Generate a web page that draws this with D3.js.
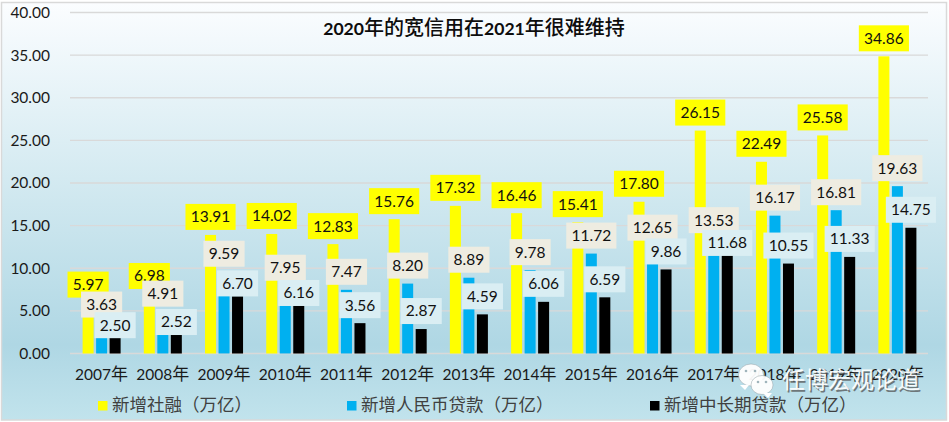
<!DOCTYPE html>
<html><head><meta charset="utf-8">
<script src="https://cdn.jsdelivr.net/npm/d3@7"></script>
<style>html,body{margin:0;padding:0;background:#fff;overflow:hidden}svg{display:block}</style>
</head><body><svg id="c" width="949" height="422"></svg>
<script>
const years = ["2007年","2008年","2009年","2010年","2011年","2012年","2013年","2014年","2015年","2016年","2017年","2018年","2019年","2020年"];
const socialFinancing = [5.97,6.98,13.91,14.02,12.83,15.76,17.32,16.46,15.41,17.80,26.15,22.49,25.58,34.86];
const rmbLoans = [3.63,4.91,9.59,7.95,7.47,8.20,8.89,9.78,11.72,12.65,13.53,16.17,16.81,19.63];
const longTermLoans = [2.50,2.52,6.70,6.16,3.56,2.87,4.59,6.06,6.59,9.86,11.68,10.55,11.33,14.75];
const seriesNames = ["新增社融（万亿）","新增人民币贷款（万亿）","新增中长期贷款（万亿）"];
const yTicks = [0,5,10,15,20,25,30,35,40];
const titleText = "2020年的宽信用在2021年很难维持";
const watermarkText = "任博宏观论道";
// the source chart's hand-moved labels for the third series (px downward)
const thirdSeriesLabelDrop = [11,8,5,10,0,0,0,0,0,0,7,0,0,0];

const seriesValues = [socialFinancing, rmbLoans, longTermLoans];
const barColors = ["#FFFF00","#00B0F0","#000000"];
const boxColors = ["#FFFF00","#EEECE1","#DAEEF3"];
const LATIN = "Lato, sans-serif", CJK = "'Noto Sans CJK SC', sans-serif";

const svg = d3.select("#c");
const grad = svg.append("defs").append("linearGradient").attr("id","bg").attr("x1",0).attr("y1",0).attr("x2",0).attr("y2",1);
[[0,"#FBFDFF"],[0.42,"#D4EAF1"],[0.82,"#AFD7E4"],[1,"#C1E3EC"]].forEach(s=>grad.append("stop").attr("offset",s[0]).attr("stop-color",s[1]));
svg.append("rect").attr("x",1.5).attr("y",2.5).attr("width",945).attr("height",417.5).attr("fill","url(#bg)").attr("stroke","#D9D9D9").attr("stroke-width",1.5);

const x = d3.scaleBand().domain(years).range([71,928]);
const xs = d3.scaleBand().domain([0,1,2]).range([0,x.bandwidth()]).paddingInner(0.185).paddingOuter(0.859);
const y = d3.scaleLinear().domain([0,40]).range([353.5,12.5]);

// mixed-script text: Latin runs and CJK runs use different fonts and sizes
function runs(sel, text, latinSize, cjkSize, latinW, cjkW){
  sel.each(function(){
    const t = d3.select(this);
    (text.match(/[\x00-\x7f]+|[^\x00-\x7f]+/g)||[]).forEach(r=>{
      const latin = /^[\x00-\x7f]/.test(r);
      t.append("tspan").text(r)
        .attr("font-family",latin?LATIN:CJK)
        .attr("font-size",latin?latinSize:cjkSize)
        .attr("font-weight",latin?latinW:cjkW);
    });
  });
}

// grid
svg.append("g").selectAll("line").data(yTicks).join("line")
  .attr("x1",70).attr("x2",928).attr("y1",d=>y(d)).attr("y2",d=>y(d))
  .attr("stroke","#D9D9D9").attr("stroke-width",1.3);

// y axis
const yAxis = d3.axisLeft(y).tickValues(yTicks).tickFormat(d3.format(".2f")).tickSize(0).tickPadding(0);
const yg = svg.append("g").attr("transform","translate(50,0)").call(yAxis);
yg.select(".domain").remove();
yg.selectAll("text").attr("font-family",LATIN).attr("font-size",15.5).attr("fill","#1a1a1a");

// x axis
const xAxis = d3.axisBottom(x).tickSize(0).tickPadding(0).tickFormat(()=>"");
const xg = svg.append("g").attr("transform","translate(0,353.5)").call(xAxis);
xg.select(".domain").remove();
xg.selectAll(".tick text").each(function(d){
  const t = d3.select(this).attr("y",26).attr("dy",0).attr("fill","#1a1a1a").attr("text-anchor","middle");
  runs(t,d,15.5,17,400,400);
});

// bars
seriesValues.forEach((vals,s)=>{
  svg.append("g").selectAll("rect").data(vals).join("rect")
    .attr("x",(d,i)=>x(years[i])+xs(s)).attr("width",xs.bandwidth())
    .attr("y",d=>y(d)).attr("height",d=>y(0)-y(d)).attr("fill",barColors[s]);
});

// labels, series by series so later boxes cover earlier ones
seriesValues.forEach((vals,s)=>{
  const g = svg.append("g").selectAll("g").data(vals).join("g")
    .attr("transform",(d,i)=>{
      const drop = s===2 ? thirdSeriesLabelDrop[i] : 0;
      return `translate(${x(years[i])+xs(s)+xs.bandwidth()/2},${y(d)-5-13+drop})`;
    });
  const rects = g.append("rect").attr("y",-13).attr("height",26).attr("fill",boxColors[s]);
  const texts = g.append("text").attr("text-anchor","middle").attr("dy","0.35em")
    .attr("font-family",LATIN).attr("font-size",15.5).attr("fill","#111").text(d3.format(".2f"));
  rects.each(function(d,i){
    const w = texts.nodes()[i].getComputedTextLength()+10.5;
    d3.select(this).attr("x",-w/2).attr("width",w);
  });
});

// title
svg.append("text").attr("x",474).attr("y",35).attr("text-anchor","middle").attr("fill","#0d0d0d")
  .call(runs,titleText,17.6,20,700,500);

// legend
const legendX = [98,347,650];
seriesNames.forEach((n,i)=>{
  svg.append("rect").attr("x",legendX[i]).attr("y",401).attr("width",9.5).attr("height",9.5).attr("fill",barColors[i]);
  svg.append("text").attr("x",legendX[i]+14).attr("y",411).attr("font-family",CJK).attr("font-size",17.5).attr("fill","#404040").text(n);
});

// watermark
const wm = svg.append("g");
const bubble = (cx,cy,rx,ry,tx,ty,op)=>{
  wm.append("ellipse").attr("cx",cx).attr("cy",cy).attr("rx",rx).attr("ry",ry).attr("fill","#fff").attr("stroke","#8a9aa0").attr("stroke-width",.5).attr("opacity",op);
  wm.append("path").attr("d",d3.line()([[tx-5,ty-5],[tx,ty],[tx+4,ty-5]])).attr("fill","#fff");
};
bubble(751,375,12.5,11,745,390,.95);
bubble(762,385,11,9.5,768,398,.95);
[[746,371],[755,371],[758,382],[766,382]].forEach(p=>wm.append("circle").attr("cx",p[0]).attr("cy",p[1]).attr("r",1.3).attr("fill","#9fb4bb"));
svg.append("text").attr("x",783.5).attr("y",389.5).attr("font-family",CJK).attr("font-size",23).attr("fill","#555").attr("opacity",.75).text(watermarkText);
svg.append("text").attr("x",782).attr("y",388).attr("font-family",CJK).attr("font-size",23).attr("fill","#fff").attr("opacity",.92).text(watermarkText);
</script></body></html>
